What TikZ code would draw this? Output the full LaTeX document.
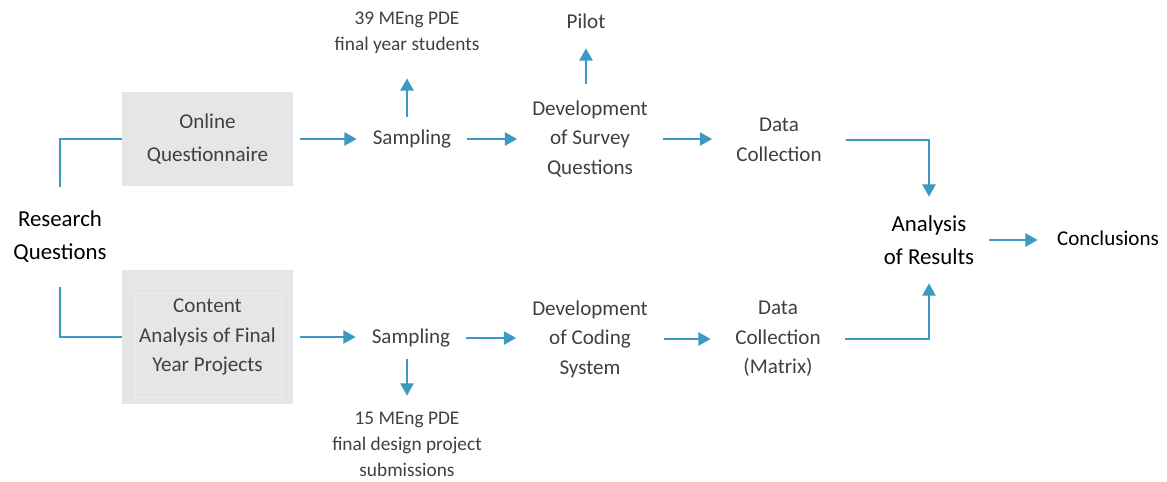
\documentclass[tikz,border=0pt]{standalone}
\usepackage{fontspec}
\setmainfont{Carlito}
\usetikzlibrary{arrows.meta, positioning}
\definecolor{flowblue}{RGB}{59,154,194}
\definecolor{boxgray}{RGB}{228,230,231}
\definecolor{txtgray}{RGB}{64,64,64}

\begin{document}
\begin{tikzpicture}[
  x=0.02cm, y=-0.02cm,
  box/.style={rectangle, fill=boxgray, minimum width=3.42cm, align=center, text=txtgray},
  lbl/.style={align=center, text=txtgray, inner sep=0, font=\fontsize{12}{16.8}\selectfont},
  note/.style={lbl, font=\fontsize{11}{14.8}\selectfont},
  main/.style={align=center, text=black, inner sep=0, font=\fontsize{13}{18.8}\selectfont},
  flow/.style={-{Triangle[length=7pt, width=7.5pt]}, flowblue, line width=1.1pt},
  link/.style={flowblue, line width=1.1pt},
]
  \useasboundingbox (0,0) rectangle (1167,481);

  % start and the two methods
  \node[main, minimum height=2cm] (rq) at (60,237) {Research\\Questions};
  \node[box, minimum height=1.9cm, font=\fontsize{12}{18.8}\selectfont] (quest) at (207.5,139) {Online\\Questionnaire};
  \node[box, minimum height=2.7cm, font=\fontsize{12}{17}\selectfont] (content) at (207.5,337) {Content\\Analysis of Final\\Year Projects};
  \node[draw=white!35!boxgray, line width=0.5pt, minimum width=2.92cm, minimum height=2.08cm] (contentin) at (208,345) {};

  \draw[link] (rq.north) |- (quest.west);
  \draw[link] (rq.south) |- (content.west);

  % top row
  \node[lbl, minimum width=2.2cm, minimum height=0.88cm] (samp1) at (412,139) {Sampling};
  \node[note, minimum height=1.8cm] (students) at (407,33) {39 MEng PDE\\final year students};
  \node[lbl, minimum width=2.9cm, minimum height=2.2cm] (survey) at (590,139) {Development\\of Survey\\Questions};
  \node[lbl, minimum height=1.08cm] (pilot) at (586,21) {Pilot};
  \node[lbl, minimum width=2.66cm] (data1) at (779,140) {Data\\Collection};

  % bottom row
  \node[lbl, minimum width=2.2cm, minimum height=0.84cm] (samp2) at (411,338) {Sampling};
  \node[note, minimum height=1.92cm] (subs) at (407,444) {15 MEng PDE\\final design project\\submissions};
  \node[lbl, minimum width=2.94cm] (coding) at (590,339) {Development\\of Coding\\System};
  \node[lbl, minimum width=2.68cm] (data2) at (778,339) {Data\\Collection\\(Matrix)};

  % end
  \node[main, minimum width=2.4cm, minimum height=1.72cm] (results) at (929,240) {Analysis\\of Results};
  \node[lbl, text=black, minimum width=2.8cm] (concl) at (1108,238) {Conclusions};

  \draw[flow, shorten <=4pt] (quest.east) -- (quest.east -| samp1.west);
  \draw[flow] (students.south |- samp1.north) -- (students.south);
  \draw[flow] (samp1.east) -- (samp1.east -| survey.west);
  \draw[flow] (survey.north -| pilot.south) -- (pilot.south);
  \draw[flow] (survey.east) -- (survey.east -| data1.west);
  \draw[flow] (data1.east) -| (results.north);

  \draw[flow, shorten <=4pt] (content.east) -- (content.east -| samp2.west);
  \draw[flow] (subs.north |- samp2.south) -- (subs.north);
  \draw[flow] (samp2.east) -- (samp2.east -| coding.west);
  \draw[flow] (coding.east) -- (coding.east -| data2.west);
  \draw[flow] (data2.east) -| (results.south);

  \draw[flow] (results.east) -- (results.east -| concl.west);
\end{tikzpicture}
\end{document}
